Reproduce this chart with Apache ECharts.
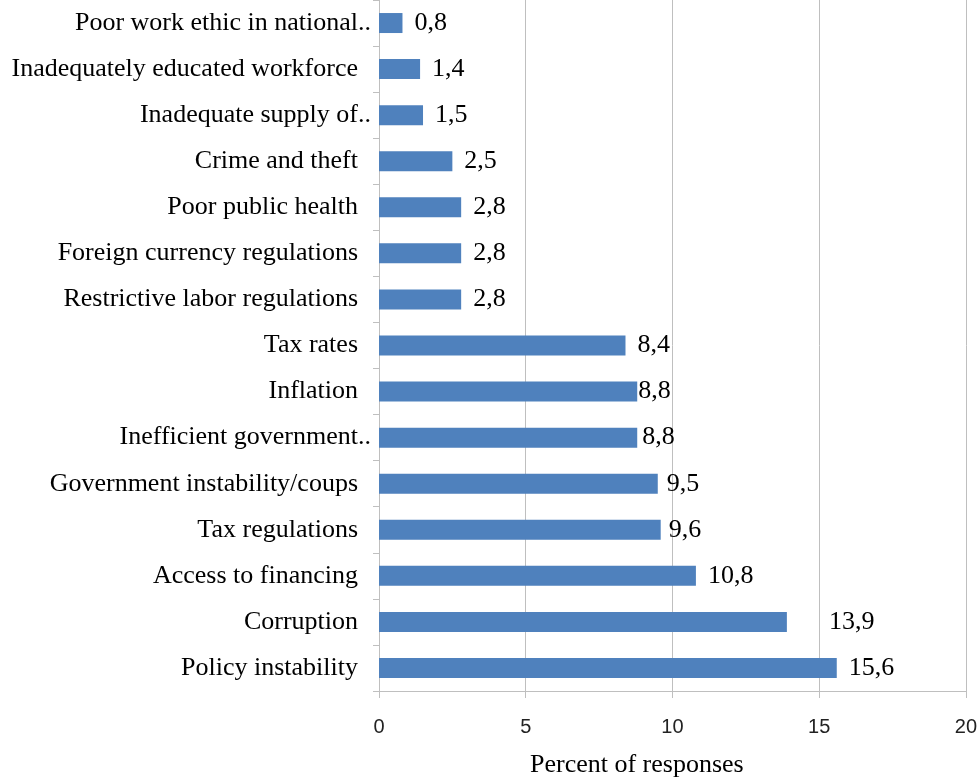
<!DOCTYPE html>
<html>
<head>
<meta charset="utf-8">
<script src="https://cdn.jsdelivr.net/npm/echarts@6/dist/echarts.min.js"></script>
<style>
html,body{margin:0;padding:0;background:#fff;}
#chart{width:980px;height:779px;}
</style>
</head>
<body>
<div id="chart"></div>
<script>
// Categories listed bottom to top (ECharts category y-axis order)
const categories = [
  "Policy instability",
  "Corruption",
  "Access to financing",
  "Tax regulations",
  "Government instability/coups",
  "Inefficient government..",
  "Inflation",
  "Tax rates",
  "Restrictive labor regulations",
  "Foreign currency regulations",
  "Poor public health",
  "Crime and theft",
  "Inadequate supply of..",
  "Inadequately educated workforce",
  "Poor work ethic in national.."
];
const values = [15.6, 13.9, 10.8, 9.6, 9.5, 8.8, 8.8, 8.4, 2.8, 2.8, 2.8, 2.5, 1.5, 1.4, 0.8];
const xTicks = [0, 5, 10, 15, 20];
const axisTitle = "Percent of responses";

// label gap (px) after each bar, matching the reference placement
const labelGap = [12, 42, 12, 8, 9, 5, 1, 12, 12, 12, 12, 12, 12, 12, 12];

const chart = echarts.init(document.getElementById('chart'), null, {renderer: 'canvas'});
const serif = '"Liberation Serif", "Times New Roman", serif';

const option = {
  animation: false,
  backgroundColor: '#ffffff',
  title: {
    text: axisTitle,
    left: 530,
    top: 752,
    padding: 0,
    textStyle: {fontFamily: serif, fontSize: 26, fontWeight: 'normal', color: '#000'}
  },
  grid: {left: 379, right: 13, top: 0, bottom: 88, containLabel: false},
  xAxis: {
    type: 'value',
    min: xTicks[0],
    max: xTicks[xTicks.length - 1],
    interval: xTicks[1] - xTicks[0],
    axisLine: {show: true, lineStyle: {color: '#bfbfbf', width: 1}},
    axisTick: {show: true, length: 7, lineStyle: {color: '#bfbfbf'}},
    splitLine: {show: true, lineStyle: {color: '#bfbfbf', width: 1}},
    axisLabel: {
      margin: 26,
      fontFamily: '"Liberation Sans", Arial, sans-serif',
      fontSize: 20,
      color: '#222'
    }
  },
  yAxis: {
    type: 'category',
    data: categories,
    axisLine: {show: true, lineStyle: {color: '#bfbfbf', width: 1}},
    axisTick: {show: true, length: 6, lineStyle: {color: '#bfbfbf'}},
    splitLine: {show: false},
    axisLabel: {
      margin: 8,
      fontFamily: serif,
      fontSize: 26,
      color: '#000',
      formatter: function (v) {
        return v.endsWith('..') ? '{e|' + v + '}' : '{n|' + v + '}';
      },
      rich: {
        e: {fontFamily: serif, fontSize: 26, color: '#000'},
        n: {fontFamily: serif, fontSize: 26, color: '#000', padding: [0, 13, 0, 0]}
      }
    }
  },
  series: [{
    type: 'bar',
    data: values.map((v, i) => ({
      value: v,
      label: {distance: labelGap[i]}
    })),
    barWidth: 20,
    itemStyle: {color: '#4f81bd'},
    label: {
      show: true,
      position: 'right',
      fontFamily: serif,
      fontSize: 26,
      color: '#000',
      formatter: function (p) { return p.value.toFixed(1).replace('.', ','); }
    }
  }]
};
chart.setOption(option);
</script>
</body>
</html>
